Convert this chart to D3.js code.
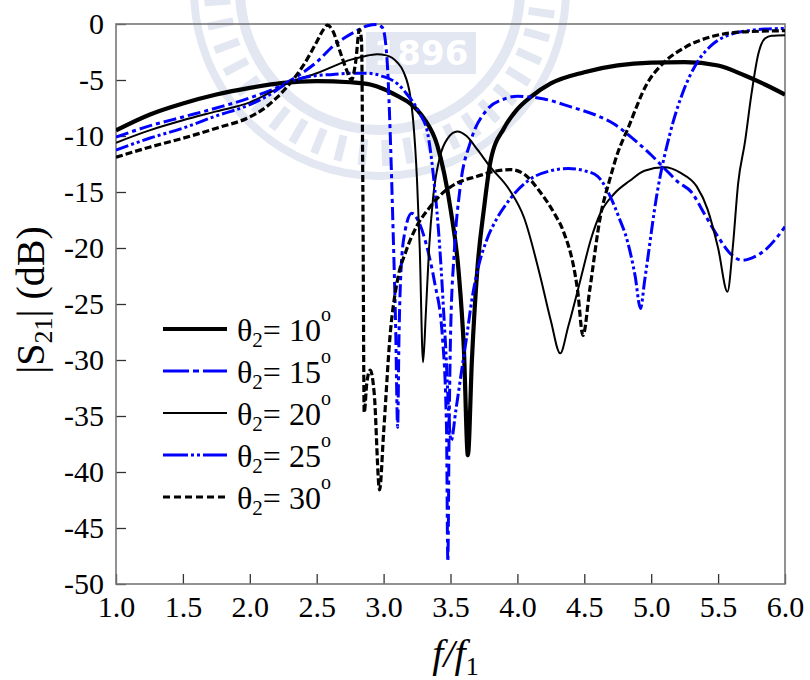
<!DOCTYPE html>
<html>
<head>
<meta charset="utf-8">
<script src="https://cdn.jsdelivr.net/npm/d3@7"></script>
<style>
  body { margin: 0; background: #fff; }
  svg { display: block; }
  text { font-family: "Liberation Serif", "Times New Roman", serif; fill: #000; }
</style>
</head>
<body>
<svg id="chart" width="810" height="680"></svg>
<script>
// Axis ticks
const xTicks = [1.0, 1.5, 2.0, 2.5, 3.0, 3.5, 4.0, 4.5, 5.0, 5.5, 6.0];
const yTicks = [0, -5, -10, -15, -20, -25, -30, -35, -40, -45, -50];

// Legend angles (degrees)
const thetaLabels = ["10", "15", "20", "25", "30"];

// |S21| (dB) versus f/f1 for each theta2
const theta10 = [
  [1.0,-9.5],[1.25,-8.1],[1.5,-7.1],[1.75,-6.3],[2.0,-5.7],[2.25,-5.25],[2.5,-5.1],
  [2.75,-5.2],[2.9,-5.4],[3.0,-5.8],[3.1,-6.4],[3.2,-7.1],[3.3,-8.4],[3.4,-10.8],
  [3.5,-16.5],[3.56,-22],[3.6,-29],[3.63,-38.5],[3.66,-30],[3.7,-22],[3.75,-16.5],
  [3.8,-12.2],[3.9,-9.3],[4.0,-7.6],[4.1,-6.5],[4.25,-5.3],[4.5,-4.3],[4.75,-3.7],
  [5.0,-3.45],[5.25,-3.4],[5.5,-3.7],[5.7,-4.6],[5.85,-5.4],[6.0,-6.3]
];
const theta15 = [
  [1.0,-10.1],[1.25,-9.1],[1.5,-8.3],[1.75,-7.5],[2.0,-6.6],[2.25,-5.4],[2.4,-4.3],
  [2.5,-3.4],[2.62,-2.0],[2.7,-1.3],[2.8,-0.6],[2.88,-0.15],[2.95,-0.05],[2.99,-0.3],
  [3.01,-1.2],[3.03,-4],[3.05,-10],[3.07,-18],[3.09,-27],[3.105,-36],[3.115,-28],
  [3.13,-22],[3.16,-18.5],[3.21,-16.9],[3.26,-17.6],[3.33,-20.2],[3.38,-23],[3.44,-28],
  [3.47,-36],[3.48,-48],[3.49,-36],[3.5,-28],[3.53,-20],[3.57,-14.8],[3.65,-10.5],
  [3.77,-7.7],[3.9,-6.7],[4.0,-6.45],[4.2,-6.7],[4.4,-7.4],[4.6,-8.2],[4.72,-8.9],
  [4.85,-10.1],[5.0,-11.7],[5.1,-12.9],[5.2,-14.1],[5.3,-15.0],[5.4,-17.0],[5.5,-19.0],
  [5.6,-20.6],[5.68,-21.1],[5.75,-20.9],[5.85,-20.2],[5.95,-18.9],[6.0,-18.1]
];
const theta20 = [
  [1.0,-10.6],[1.25,-9.5],[1.5,-8.6],[1.75,-7.8],[2.0,-7.0],[2.25,-5.5],[2.3,-5.2],
  [2.5,-4.4],[2.62,-3.8],[2.75,-3.2],[2.85,-2.9],[2.95,-2.7],[3.02,-2.8],[3.1,-3.4],
  [3.15,-4.3],[3.2,-6.5],[3.22,-8.5],[3.25,-14],[3.27,-20],[3.295,-30.2],[3.315,-26],
  [3.34,-20],[3.37,-15.5],[3.42,-11.9],[3.48,-10.2],[3.55,-9.6],[3.62,-10.0],[3.7,-11.2],
  [3.8,-12.8],[3.94,-14.8],[4.05,-17.3],[4.17,-22.5],[4.25,-26.5],[4.32,-29.4],[4.38,-27],
  [4.47,-22.9],[4.55,-19.2],[4.62,-16.9],[4.72,-15.2],[4.84,-14.0],[4.95,-13.1],[5.1,-12.8],
  [5.22,-13.3],[5.34,-14.5],[5.42,-16.5],[5.5,-20],[5.57,-23.9],[5.61,-19.9],[5.65,-14.2],
  [5.7,-10.6],[5.75,-6.2],[5.8,-2.7],[5.85,-1.3],[5.9,-1.05],[6.0,-1.0]
];
const theta25 = [
  [1.0,-11.25],[1.25,-10.2],[1.5,-9.3],[1.75,-8.2],[2.0,-7.2],[2.15,-6.3],[2.28,-5.3],
  [2.4,-4.8],[2.5,-4.6],[2.62,-4.5],[2.75,-4.4],[2.88,-4.4],[3.0,-4.7],[3.1,-5.3],
  [3.17,-6.2],[3.27,-8.0],[3.33,-9.8],[3.37,-13.3],[3.42,-20],[3.46,-28],[3.505,-37.2],
  [3.54,-34.5],[3.58,-31.2],[3.62,-28],[3.66,-24.6],[3.71,-21.6],[3.77,-19.3],[3.85,-17.3],
  [3.94,-15.7],[4.09,-13.9],[4.25,-13.1],[4.38,-12.9],[4.5,-13.1],[4.6,-13.6],[4.69,-15.3],
  [4.76,-17.3],[4.82,-19.3],[4.88,-22.5],[4.92,-25.4],[4.95,-23],[4.97,-21.3],[5.04,-15.4],
  [5.14,-9.8],[5.24,-6.0],[5.34,-3.5],[5.46,-1.8],[5.6,-0.9],[5.72,-0.6],[5.85,-0.45],[6.0,-0.4]
];
const theta30 = [
  [1.0,-11.9],[1.25,-11.0],[1.5,-10.2],[1.75,-9.3],[2.0,-8.3],[2.1,-7.6],[2.2,-6.6],
  [2.3,-5.3],[2.4,-3.7],[2.5,-1.6],[2.55,-0.5],[2.58,-0.1],[2.62,-0.6],[2.67,-2.3],
  [2.72,-4.0],[2.76,-5.0],[2.79,-3.5],[2.82,-0.5],[2.835,-1.5],[2.845,-15],[2.855,-34.7],
  [2.875,-32],[2.9,-30.9],[2.93,-33],[2.97,-41.6],[3.0,-36.5],[3.05,-27.6],[3.1,-23.1],
  [3.17,-20.2],[3.25,-18.0],[3.33,-16.6],[3.44,-15.1],[3.55,-14.2],[3.7,-13.6],[3.85,-13.1],
  [3.95,-13.0],[4.05,-13.4],[4.17,-15.0],[4.28,-17.0],[4.34,-18.4],[4.45,-23.8],[4.49,-27.8],
  [4.54,-23.8],[4.62,-17.2],[4.69,-13.9],[4.75,-11.5],[4.82,-9.5],[4.97,-5.3],[5.09,-3.5],
  [5.25,-2.1],[5.46,-1.1],[5.7,-0.7],[6.0,-0.6]
];

const series = [
  { label: thetaLabels[0], values: theta10, color: "#000", width: 4.2, dash: null,            legendDash: null },
  { label: thetaLabels[1], values: theta15, color: "#0000ff", width: 3, dash: "13,4,4,4",     legendDash: "26,4,6,4" },
  { label: thetaLabels[2], values: theta20, color: "#000", width: 2, dash: null,              legendDash: null },
  { label: thetaLabels[3], values: theta25, color: "#0000ff", width: 3, dash: "13,3,3,3,3,3", legendDash: "25,3,3,3,3,3" },
  { label: thetaLabels[4], values: theta30, color: "#000", width: 3.2, dash: "7,3",           legendDash: "7,4" }
];

const svg = d3.select("#chart");
const plot = { left: 116, right: 785, top: 24, bottom: 584 };

const x = d3.scaleLinear().domain([1, 6]).range([plot.left, plot.right]);
const y = d3.scaleLinear().domain([-50, 0]).range([plot.bottom, plot.top]);

// Faint institutional seal behind the plot
const seal = svg.append("g").attr("fill", "#e2e7f1").attr("stroke", "none");
const sealCx = 380, sealCy = -10;
seal.append("circle").attr("cx", sealCx).attr("cy", sealCy).attr("r", 140)
  .attr("fill", "none").attr("stroke", "#e2e7f1").attr("stroke-width", 10);
seal.append("circle").attr("cx", sealCx).attr("cy", sealCy).attr("r", 186)
  .attr("fill", "none").attr("stroke", "#e2e7f1").attr("stroke-width", 8);
d3.range(0, 360, 8).forEach(a => {
  seal.append("rect")
    .attr("x", 150).attr("y", -4).attr("width", 26).attr("height", 8)
    .attr("transform", `translate(${sealCx},${sealCy}) rotate(${a})`);
});
seal.append("rect").attr("x", 366).attr("y", 32).attr("width", 110).attr("height", 42);
seal.append("text").attr("x", 421).attr("y", 65).attr("text-anchor", "middle")
  .attr("font-size", 34).attr("font-weight", "bold")
  .style("font-family", "'DejaVu Sans', sans-serif").style("fill", "#ffffff")
  .text("1896");

svg.append("defs").append("clipPath").attr("id", "plot-clip")
  .append("rect")
  .attr("x", plot.left).attr("y", plot.top - 2)
  .attr("width", plot.right - plot.left).attr("height", plot.bottom - plot.top + 2);

// Axes with inward ticks
const xAxis = svg.append("g")
  .attr("transform", `translate(0,${plot.bottom})`)
  .call(d3.axisBottom(x).tickValues(xTicks).tickSize(-10).tickPadding(12).tickFormat(d3.format(".1f")));
const yAxis = svg.append("g")
  .attr("transform", `translate(${plot.left},0)`)
  .call(d3.axisLeft(y).tickValues(yTicks).tickSize(-10).tickPadding(12).tickFormat(d => String(d)));

[xAxis, yAxis].forEach(g => {
  g.select(".domain").remove();
  g.selectAll(".tick line").attr("stroke", "#333").attr("stroke-width", 1.3);
  g.selectAll(".tick text").attr("font-size", 30).attr("fill", "#000");
});

// Frame
svg.append("rect")
  .attr("x", plot.left).attr("y", plot.top)
  .attr("width", plot.right - plot.left).attr("height", plot.bottom - plot.top)
  .attr("fill", "none").attr("stroke", "#777").attr("stroke-width", 1.6);

// Curves
const line = d3.line()
  .x(d => x(d[0]))
  .y(d => y(d[1]))
  .curve(d3.curveMonotoneX);

const curves = svg.append("g").attr("clip-path", "url(#plot-clip)");
series.forEach(s => {
  curves.append("path")
    .datum(s.values)
    .attr("d", line)
    .attr("fill", "none")
    .attr("stroke", s.color)
    .attr("stroke-width", s.width)
    .attr("stroke-dasharray", s.dash)
    .attr("stroke-linejoin", "round");
});

// Legend
const legend = svg.append("g");
series.forEach((s, i) => {
  const cy = 329 + i * 42;
  legend.append("line")
    .attr("x1", 163).attr("x2", 227).attr("y1", cy).attr("y2", cy)
    .attr("stroke", s.color).attr("stroke-width", s.width)
    .attr("stroke-dasharray", s.legendDash);
  const t = legend.append("text").attr("x", 237).attr("y", cy + 12).attr("font-size", 32);
  t.append("tspan").text("θ");
  t.append("tspan").attr("font-size", 21).attr("dy", 6).text("2");
  t.append("tspan").attr("dy", -6).text("= " + s.label);
  t.append("tspan").attr("font-size", 20).attr("dy", -20).text("o");
});

// Axis titles
const xt = svg.append("text")
  .attr("x", (plot.left + plot.right) / 2 + 5).attr("y", 667)
  .attr("text-anchor", "middle").attr("font-size", 40);
xt.append("tspan").attr("font-style", "italic").text("f");
xt.append("tspan").attr("font-style", "italic").text("/");
xt.append("tspan").attr("font-style", "italic").text("f");
xt.append("tspan").attr("font-size", 26).attr("dy", 8).text("1");

const yt = svg.append("text")
  .attr("transform", `translate(44,${(plot.top + plot.bottom) / 2 - 4}) rotate(-90)`)
  .attr("text-anchor", "middle").attr("font-size", 40);
yt.append("tspan").text("|S");
yt.append("tspan").attr("font-size", 26).attr("dy", 8).text("21");
yt.append("tspan").attr("dy", -8).text("| (dB)");
</script>
</body>
</html>
